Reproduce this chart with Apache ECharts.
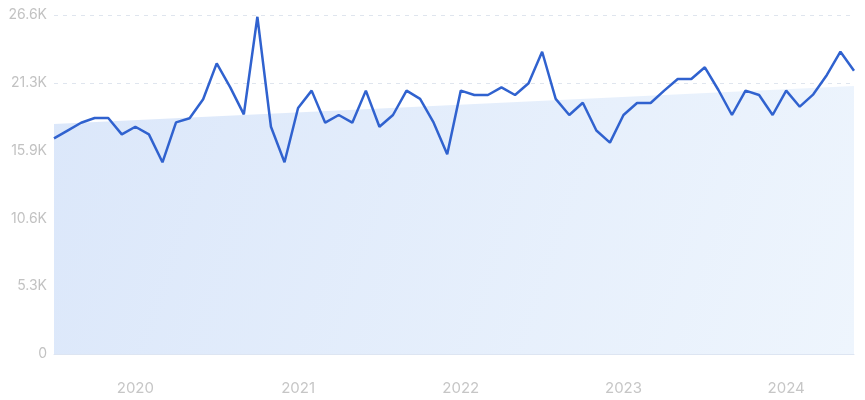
<!DOCTYPE html>
<html>
<head>
<meta charset="utf-8">
<script src="https://cdn.jsdelivr.net/npm/echarts@6/dist/echarts.min.js"></script>
<style>
html,body{margin:0;padding:0;background:#fff;}
#chart{width:865px;height:400px;}
</style>
</head>
<body>
<div id="chart"></div>
<script>
var months = [];
(function(){
  var y = 2019, m = 7;
  for (var i = 0; i < 60; i++) {
    months.push(y + '-' + (m < 10 ? '0' + m : m));
    m++; if (m > 12) { m = 1; y++; }
  }
})();

var values = [
  16910, 17520, 18130, 18500, 18500, 17220, 17820, 17220, 15030, 18160,
  18480, 19970, 22790, 20910, 18790, 26440, 17820, 15030, 19290, 20650,
  18140, 18740, 18140, 20650, 17820, 18740, 20650, 20000, 18140, 15660,
  20650, 20310, 20310, 20910, 20310, 21230, 23700, 20000, 18740, 19700,
  17520, 16570, 18740, 19680, 19680, 20650, 21560, 21560, 22480, 20700,
  18740, 20650, 20310, 18740, 20650, 19390, 20360, 21880, 23700, 22210
];

var trendStart = 18030;
var trendEnd = 21010;

var yMax = 26580;
var yInterval = 5316;

var chart = echarts.init(document.getElementById('chart'), null, {renderer: 'canvas'});
chart.setOption({
  animation: false,
  backgroundColor: '#ffffff',
  grid: {left: 54, right: 11, top: 15, bottom: 46},
  xAxis: {
    type: 'category',
    data: months,
    boundaryGap: false,
    axisLine: {show: true, lineStyle: {color: '#dde5f2', width: 1}},
    axisTick: {show: false},
    splitLine: {show: false},
    axisLabel: {
      interval: function (idx, val) { return val.slice(5) === '01'; },
      formatter: function (val) { return val.slice(0, 4); },
      color: '#c6c6c6',
      fontSize: 15,
      fontFamily: 'Inter',
      margin: 27
    }
  },
  yAxis: {
    type: 'value',
    min: 0,
    max: yMax,
    interval: yInterval,
    axisLine: {show: false},
    axisTick: {show: false},
    splitLine: {show: true, lineStyle: {color: '#dfe5ee', type: [4, 5], width: 1}},
    axisLabel: {
      formatter: function (v) { return v === 0 ? '0' : (v / 1000).toFixed(1) + 'K'; },
      color: '#c2c2c2',
      fontSize: 14,
      fontFamily: 'Inter',
      margin: 7
    }
  },
  series: [
    {
      type: 'line',
      data: [[0, trendStart], [values.length - 1, trendEnd]],
      symbol: 'none',
      lineStyle: {width: 0, opacity: 0},
      areaStyle: {
        opacity: 1,
        color: new echarts.graphic.LinearGradient(0, 0, 1, 1, [
          {offset: 0, color: '#dbe7fa'},
          {offset: 1, color: '#eef5fd'}
        ])
      },
      silent: true,
      z: 1
    },
    {
      type: 'line',
      data: values,
      symbol: 'none',
      lineStyle: {color: '#3062cf', width: 2.5},
      z: 3
    }
  ]
});
</script>
</body>
</html>
